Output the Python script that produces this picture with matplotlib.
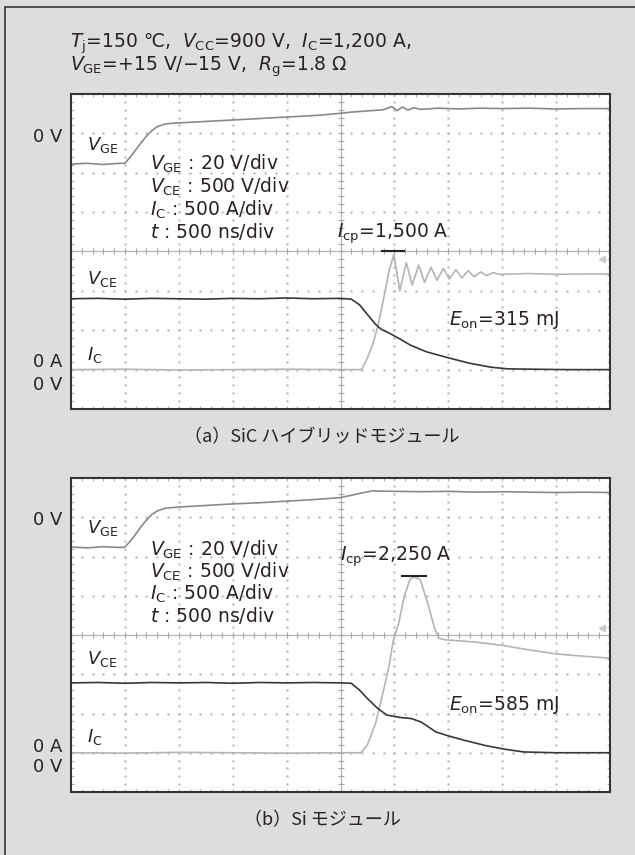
import numpy as np
import matplotlib
matplotlib.use('Agg')
import matplotlib.pyplot as plt
from matplotlib.lines import Line2D

plt.rcParams['font.family'] = ['DejaVu Sans', 'Noto Sans CJK JP']
plt.rcParams['mathtext.fontset'] = 'dejavusans'

# time axis in divisions (500 ns/div), levels in divisions from the bottom of the screen
# (a) SiC hybrid module
vge_a_t = [0, 0.3, 0.6, 0.9, 1.0, 1.1, 1.2, 1.3, 1.4, 1.5, 1.6, 1.75, 1.9, 2.2, 2.6, 3.0, 3.4, 3.8,
           4.2, 4.6, 5.0, 5.2, 5.4, 5.6, 5.8, 5.95, 6.05, 6.15, 6.25, 6.35, 6.5, 6.8, 7.2, 7.6,
           8.0, 8.5, 9.0, 9.5, 10]
vge_a_v = [6.22, 6.24, 6.21, 6.24, 6.24, 6.40, 6.58, 6.76, 6.93, 7.07, 7.17, 7.24, 7.26, 7.28,
           7.31, 7.34, 7.37, 7.40, 7.43, 7.46, 7.51, 7.54, 7.56, 7.58, 7.60, 7.68, 7.58, 7.67,
           7.59, 7.65, 7.61, 7.64, 7.62, 7.64, 7.63, 7.64, 7.62, 7.63, 7.63]

vce_a_t = [0, 0.5, 1.0, 1.5, 2.0, 2.5, 3.0, 3.5, 4.0, 4.5, 5.0, 5.2, 5.35, 5.5, 5.65, 5.75, 5.9,
           6.1, 6.3, 6.6, 7.0, 7.4, 7.8, 8.1, 8.6, 9.2, 10]
vce_a_v = [2.80, 2.81, 2.79, 2.81, 2.80, 2.79, 2.81, 2.80, 2.82, 2.80, 2.81, 2.79, 2.65, 2.40,
           2.15, 2.03, 1.93, 1.78, 1.62, 1.45, 1.30, 1.16, 1.06, 1.02, 1.01, 1.00, 1.00]

ic_a_t = [0, 1, 2, 3, 4, 5, 5.39, 5.5, 5.6, 5.69, 5.8, 5.9, 5.99, 6.10, 6.22, 6.33, 6.45, 6.56,
          6.68, 6.79, 6.91, 7.02, 7.14, 7.25, 7.37, 7.48, 7.60, 7.71, 7.83, 7.95, 8.5, 9.0,
          9.5, 10]
ic_a_v = [1.0, 1.01, 0.99, 1.0, 1.01, 1.0, 1.0, 1.3, 1.65, 2.08, 2.8, 3.5, 3.93, 3.00, 3.72,
          3.15, 3.65, 3.22, 3.60, 3.27, 3.57, 3.30, 3.54, 3.33, 3.51, 3.36, 3.48, 3.39, 3.46,
          3.42, 3.44, 3.42, 3.43, 3.43]

# (b) Si module
vge_b_t = [0, 0.3, 0.6, 0.9, 1.0, 1.1, 1.2, 1.3, 1.4, 1.5, 1.6, 1.75, 2.0, 2.5, 3.0, 3.5, 4.0,
           4.5, 5.0, 5.2, 5.4, 5.58, 6.0, 6.5, 7.0, 7.5, 8.0, 8.5, 9.0, 9.5, 10]
vge_b_v = [6.24, 6.22, 6.25, 6.23, 6.24, 6.39, 6.57, 6.76, 6.93, 7.07, 7.16, 7.23, 7.26, 7.30,
           7.34, 7.37, 7.41, 7.45, 7.50, 7.56, 7.62, 7.67, 7.66, 7.65, 7.66, 7.64, 7.65, 7.64,
           7.63, 7.64, 7.63]

vce_b_t = [0, 0.5, 1.0, 1.5, 2.0, 2.5, 3.0, 3.5, 4.0, 4.5, 5.0, 5.2, 5.35, 5.5, 5.69, 5.86, 6.1,
           6.32, 6.5, 6.77, 7.0, 7.29, 7.7, 8.05, 8.4, 9.0, 10]
vce_b_v = [2.78, 2.79, 2.77, 2.79, 2.78, 2.79, 2.77, 2.79, 2.78, 2.79, 2.78, 2.77, 2.60, 2.38,
           2.13, 1.96, 1.90, 1.87, 1.78, 1.53, 1.43, 1.32, 1.18, 1.09, 1.02, 1.00, 1.00]

ic_b_t = [0, 1, 2, 3, 4, 5, 5.38, 5.5, 5.65, 5.8, 5.9, 5.98, 6.08, 6.18, 6.29, 6.37, 6.48,
          6.62, 6.74, 6.82, 6.93, 7.5, 7.98, 8.5, 9.0, 9.5, 10]
ic_b_v = [1.0, 0.99, 1.01, 1.0, 0.99, 1.0, 1.0, 1.2, 1.75, 2.6, 3.2, 3.87, 4.3, 4.97, 5.42, 5.48,
          5.41, 4.80, 4.20, 3.92, 3.88, 3.82, 3.74, 3.62, 3.52, 3.46, 3.41]

panels = [
    dict(vge=(vge_a_t, vge_a_v), vce=(vce_a_t, vce_a_v), ic=(ic_a_t, ic_a_v),
         icp_text=r'$I_\mathrm{cp}$=1,500 A', icp_pos=(4.93, 4.44), icp_bar=(5.77, 6.18, 4.0),
         eon_text=r'$E_\mathrm{on}$=315 mJ', eon_pos=(7.01, 2.26),
         vge_lab=6.7, vge_zero=6.9, block=[6.22, 5.63, 5.05, 4.5],
         vce_lab=3.3, ic_lab=1.37, zero_a=1.19, zero_v=0.61, marker=3.81,
         caption='（a）SiC ハイブリッドモジュール'),
    dict(vge=(vge_b_t, vge_b_v), vce=(vce_b_t, vce_b_v), ic=(ic_b_t, ic_b_v),
         icp_text=r'$I_\mathrm{cp}$=2,250 A', icp_pos=(4.99, 5.99), icp_bar=(6.14, 6.59, 5.5),
         eon_text=r'$E_\mathrm{on}$=585 mJ', eon_pos=(7.01, 2.21),
         vge_lab=6.72, vge_zero=6.92, block=[6.18, 5.62, 5.06, 4.5],
         vce_lab=3.4, ic_lab=1.41, zero_a=1.15, zero_v=0.64, marker=4.17,
         caption='（b）Si モジュール'),
]
block_lines = [r'$V_\mathrm{GE}$ : 20 V/div', r'$V_\mathrm{CE}$ : 500 V/div',
               r'$I_\mathrm{C}$ : 500 A/div', r'$t$ : 500 ns/div']

txt = '#2a2222'
fig = plt.figure(figsize=(6.35, 8.55), dpi=100)
fig.patch.set_facecolor('#dcdddc')

# outer frame (left and top only)
fig.add_artist(Line2D([5/635, 5/635], [0, 1 - 7/855], color='#4a4242', lw=1.3))
fig.add_artist(Line2D([5/635, 1], [1 - 7/855, 1 - 7/855], color='#4a4242', lw=1.3))

fig.text(70/635, 1 - 44/855, r'$T_\mathrm{j}$=150 ℃,  $V_\mathrm{CC}$=900 V,  $I_\mathrm{C}$=1,200 A,',
         fontsize=13.5, color=txt, va='center')
fig.text(70/635, 1 - 67/855, r'$V_\mathrm{GE}$=+15 V/−15 V,  $R_\mathrm{g}$=1.8 Ω',
         fontsize=13.5, color=txt, va='center')

boxes = [[71/635, 1 - 409/855, 539/635, 315/855], [71/635, 1 - 792/855, 539/635, 314/855]]
cap_y = [1 - 437/855, 1 - 820/855]
fine = np.arange(0, 10.01, 0.2)
fine_y = np.arange(0, 8.01, 0.2)

for p, box, cy in zip(panels, boxes, cap_y):
    ax = fig.add_axes(box)
    ax.set_facecolor('white')
    ax.set_xlim(0, 10)
    ax.set_ylim(0, 8)
    ax.set_xticks([])
    ax.set_yticks([])
    for s in ax.spines.values():
        s.set_color('#3a3232')
        s.set_linewidth(1.5)

    # graticule
    for i in range(1, 10):
        if i != 5:
            ax.plot([i] * len(fine_y), fine_y, ls='none', marker='.', ms=1.5, color='#bcbcbc')
    for j in range(1, 8):
        if j != 4:
            ax.plot(fine, [j] * len(fine), ls='none', marker='.', ms=1.5, color='#bcbcbc')
    ax.axvline(5, color='#b4b4b4', lw=0.9)
    ax.axhline(4, color='#b4b4b4', lw=0.9)
    ax.plot(fine, [4] * len(fine), ls='none', marker='|', ms=4, mew=0.8, color='#a8a8a8')
    ax.plot([5] * len(fine_y), fine_y, ls='none', marker='_', ms=4, mew=0.8, color='#a8a8a8')
    for e in (0, 10):
        ax.plot([e] * len(fine_y), fine_y, ls='none', marker='_', ms=4, mew=0.8, color='#b0b0b0')
    for e in (0, 8):
        ax.plot(fine, [e] * len(fine), ls='none', marker='|', ms=4, mew=0.8, color='#b0b0b0')

    # traces
    ax.plot(*p['ic'], color='#b4b4b4', lw=1.2)
    ax.plot(*p['vge'], color='#8c8888', lw=1.2)
    ax.plot(*p['vce'], color='#3c3636', lw=1.2)
    ax.plot([9.85], [p['marker']], marker='<', ms=4, color='#c8c8c8', ls='none')

    x0, x1, yb = p['icp_bar']
    ax.plot([x0, x1], [yb, yb], color='#222222', lw=1.5)

    ax.text(0.3, p['vge_lab'], r'$V_\mathrm{GE}$', fontsize=13, color=txt, va='center')
    ax.text(0.3, p['vce_lab'], r'$V_\mathrm{CE}$', fontsize=13, color=txt, va='center')
    ax.text(0.3, p['ic_lab'], r'$I_\mathrm{C}$', fontsize=13, color=txt, va='center')
    for line, yy in zip(block_lines, p['block']):
        ax.text(1.47, yy, line, fontsize=13.5, color=txt, va='center')
    ax.text(*p['icp_pos'], p['icp_text'], fontsize=13.5, color=txt, va='center')
    ax.text(*p['eon_pos'], p['eon_text'], fontsize=13.5, color=txt, va='center')

    tr = ax.get_yaxis_transform()
    for lab, yy in (('0 V', p['vge_zero']), ('0 A', p['zero_a']), ('0 V', p['zero_v'])):
        ax.text(-0.016, yy, lab, transform=tr, fontsize=13, color=txt, ha='right', va='center')

    fig.text(322/635, cy, p['caption'], fontsize=13, color=txt, ha='center', va='center',
             family=['Noto Sans CJK JP', 'DejaVu Sans'])

fig.savefig('out.png', dpi=100, facecolor=fig.get_facecolor())
